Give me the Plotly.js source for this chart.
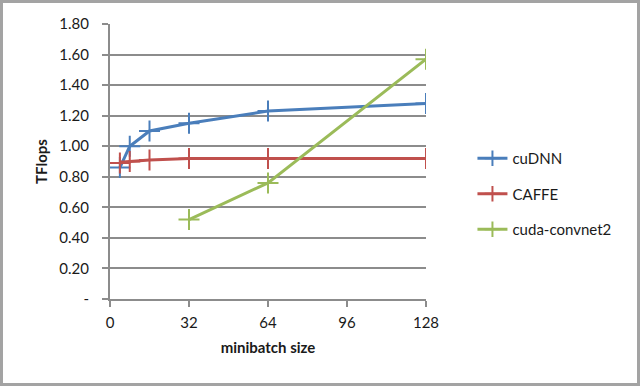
<!DOCTYPE html>
<html>
<head>
<meta charset="utf-8">
<script src="https://cdn.plot.ly/plotly-3.0.1.min.js"></script>
<style>
html,body{margin:0;padding:0;background:#fff;}
#wrap{position:relative;width:640px;height:386px;}
#chart{position:absolute;left:0;top:0;width:640px;height:386px;}
#frame{position:absolute;left:0;top:0;width:640px;height:386px;box-sizing:border-box;border:3px solid #a3a3a3;pointer-events:none;}
</style>
</head>
<body>
<div id="wrap"><div id="chart"></div><div id="frame"></div></div>
<script>
const seriesNames = ["cuDNN", "CAFFE", "cuda-convnet2"];
const cudnnX = [4, 8, 16, 32, 64, 128];
const cudnnY = [0.86, 1.00, 1.10, 1.15, 1.23, 1.28];
const caffeX = [4, 8, 16, 32, 64, 128];
const caffeY = [0.89, 0.90, 0.91, 0.92, 0.92, 0.92];
const convnetX = [32, 64, 128];
const convnetY = [0.52, 0.76, 1.57];
const xTicks = [0, 32, 64, 96, 128];
const yTickVals = [0, 0.2, 0.4, 0.6, 0.8, 1.0, 1.2, 1.4, 1.6, 1.8];
const yTickText = ["-", "0.20", "0.40", "0.60", "0.80", "1.00", "1.20", "1.40", "1.60", "1.80"];
const colors = ["#4a7ebb", "#c0504d", "#9bbb59"];

function trace(x, y, name, color, i) {
  return {
    x: x, y: y, name: name, type: "scatter", mode: "lines+markers",
    showlegend: false,
    line: {color: color, width: 3},
    marker: {symbol: "cross-thin-open", size: 15, line: {color: color, width: 2}, color: color}
  };
}
function legendTrace(name, color, i) {
  return {
    x: [null], y: [null], name: name, type: "scatter", mode: "lines+markers",
    legendgroup: "g" + i, showlegend: true,
    line: {color: color, width: 3},
    marker: {symbol: "cross-thin-open", size: 11, line: {color: color, width: 2}, color: color}
  };
}
const data = [
  trace(cudnnX, cudnnY, seriesNames[0], colors[0], 0),
  trace(caffeX, caffeY, seriesNames[1], colors[1], 1),
  trace(convnetX, convnetY, seriesNames[2], colors[2], 2),
  legendTrace(seriesNames[0], colors[0], 0),
  legendTrace(seriesNames[1], colors[1], 1),
  legendTrace(seriesNames[2], colors[2], 2)
];
const fam = "Lato, 'Open Sans', sans-serif";
const txt = {family: fam, size: 15, color: "#1a1a1a"};
const layout = {
  width: 640, height: 386,
  margin: {l: 110, r: 214, t: 24, b: 87},
  paper_bgcolor: "#fff", plot_bgcolor: "#fff",
  font: txt,
  showlegend: true,
  legend: {x: 1.147, y: 0.382, xanchor: "left", yanchor: "middle", tracegroupgap: 13, font: txt, bgcolor: "rgba(0,0,0,0)"},
  xaxis: {
    range: [0, 128], tickvals: xTicks, ticktext: xTicks.map(String),
    showgrid: false, zeroline: false,
    showline: true, linecolor: "#8c8c8c", linewidth: 2,
    ticks: "outside", ticklen: 6, tickwidth: 2, tickcolor: "#8c8c8c",
    ticklabelstandoff: 3,
    tickfont: txt,
    title: {text: "<b>minibatch size</b>", font: txt, standoff: 12}
  },
  yaxis: {
    range: [0, 1.8], tickvals: yTickVals, ticktext: yTickText,
    showgrid: true, gridcolor: "#8c8c8c", gridwidth: 2, zeroline: false,
    showline: true, linecolor: "#8c8c8c", linewidth: 2,
    ticks: "outside", ticklen: 6, tickwidth: 2, tickcolor: "#8c8c8c",
    ticklabelstandoff: 10,
    tickfont: txt,
    title: {text: "<b>TFlops</b>", font: txt, standoff: 8}
  }
};
Plotly.newPlot("chart", data, layout, {displayModeBar: false, staticPlot: true});
</script>
</body>
</html>
